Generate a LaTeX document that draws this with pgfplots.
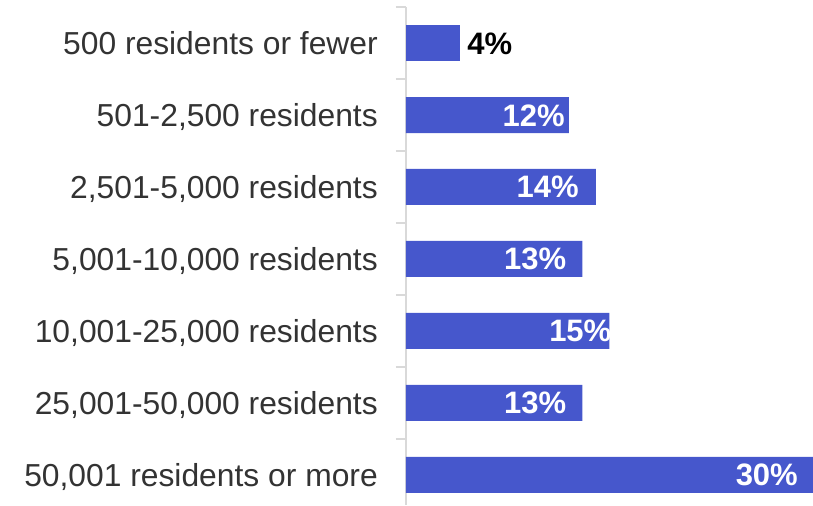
\documentclass[border=0pt]{standalone}
\usepackage{fontspec}
\setmainfont{Liberation Sans}
\usepackage{pgfplots}
\pgfplotsset{compat=1.18}
\definecolor{barblue}{HTML}{4657CC}
\definecolor{axgray}{HTML}{D9D9D9}
\definecolor{txt}{HTML}{333333}
\begin{document}
\begin{tikzpicture}
\begin{axis}[name=ax, scale only axis, width=407pt, height=498pt,
  /pgf/number format/assume math mode=true,
  xbar, bar width=36pt, bar shift=0pt,
  xmin=0, xmax=30, ymin=-0.5, ymax=6.417, y dir=reverse,
  hide x axis,
  axis y line*=left,
  y axis line style={axgray, line width=1.5pt, -},
  ytick={0,1,2,3,4,5,6},
  yticklabels={500 residents or fewer,501-2{,}500 residents,2{,}501-5{,}000 residents,5{,}001-10{,}000 residents,10{,}001-25{,}000 residents,25{,}001-50{,}000 residents,50{,}001 residents or more},
  major tick length=0pt,
  minor ytick={-0.5,0.5,1.5,2.5,3.5,4.5,5.5},
  minor tick length=10pt, tick align=outside,
  every major tick/.append style={draw=none},
  every minor tick/.append style={axgray, line width=1.5pt},
  y tick label style={font=\fontsize{31.8}{38}\selectfont, color=txt, inner sep=0pt, text depth=0pt, text height=22.5pt, anchor=east, xshift=-28pt},
  clip=false,
]
\addplot[fill=barblue, draw=none, bar shift=0pt,
  visualization depends on={\thisrow{s} \as \lshift},
  nodes near coords={\pgfmathprintnumber{\pgfplotspointmeta}\%},
  nodes near coords style={anchor=east, inner sep=0pt, xshift=\lshift pt, text=white, font=\fontsize{31}{36}\selectfont\bfseries, text depth=0pt, text height=22pt}]
  table[x=v, y=p] {
p v s
1 12 -4
2 14 -17
3 13 -16
4 15 2
5 13 -16
6 30 -15
};
\addplot[fill=barblue, draw=none, bar shift=0pt,
  nodes near coords={\pgfmathprintnumber{\pgfplotspointmeta}\%},
  nodes near coords style={anchor=west, inner sep=0pt, xshift=7pt, text=black, font=\fontsize{31}{36}\selectfont\bfseries, text depth=0pt, text height=22pt}]
  table[x=v, y=p] {
p v
0 4
};
\end{axis}
\pgfresetboundingbox
\path[use as bounding box] ([xshift=-406pt]ax.south west) rectangle ([yshift=7pt]ax.north east);
\end{tikzpicture}
\end{document}
